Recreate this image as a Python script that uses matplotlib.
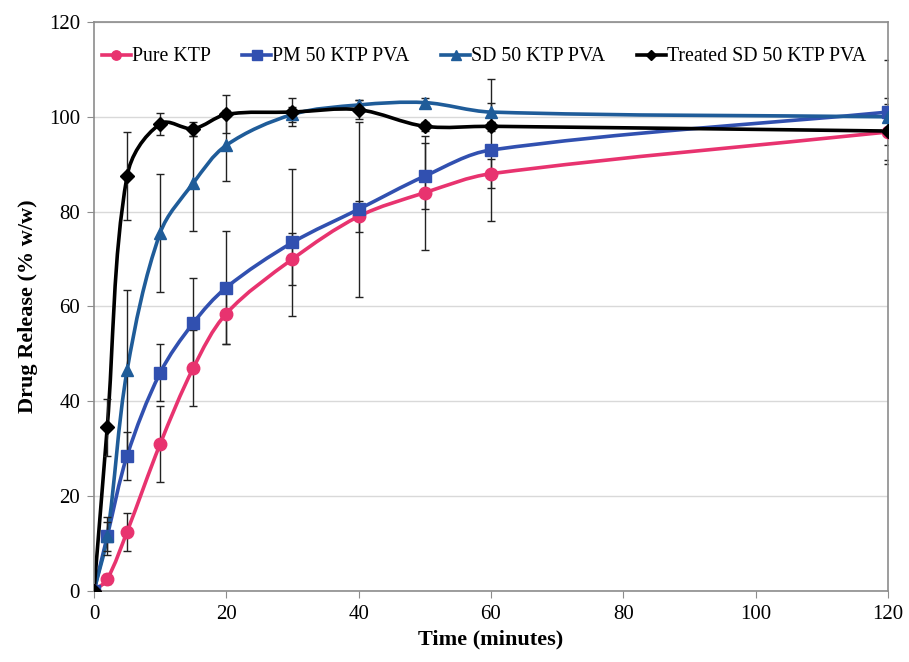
import numpy as np
import matplotlib
matplotlib.use('Agg')
import matplotlib.pyplot as plt
from matplotlib.path import Path
from matplotlib.patches import PathPatch

plt.rcParams['font.family'] = ['Liberation Serif', 'DejaVu Serif']

time = [0, 2, 5, 10, 15, 20, 30, 40, 50, 60, 120]

pure = [0, 2.5, 12.5, 31, 47, 58.5, 70, 79, 84, 88, 96.8]
pure_err = [0, 1, 4, 8, 8, 6.5, 5.5, 3.2, 12, 3, 6]

pm = [0, 11.5, 28.5, 46, 56.5, 64, 73.5, 80.5, 87.5, 93, 101]
pm_err = [0, 4, 5, 6, 9.5, 12, 15.5, 18.5, 7, 15, 11]

sd = [0, 11.5, 46.5, 75.5, 86, 94, 100.5, 102.5, 103, 101, 100]
sd_err = [0, 3, 17, 12.5, 10, 7.5, 1.5, 1, 1, 2, 4]

treated = [0, 34.5, 87.5, 98.5, 97.5, 100.5, 101, 101.5, 98, 98, 97]
treated_err = [0, 6, 9.3, 2.3, 1.5, 4, 3, 2, 1, 1, 3]

labels = ['Pure KTP', 'PM 50 KTP PVA', 'SD 50 KTP PVA', 'Treated SD 50 KTP PVA']
colors = ['#E8336F', '#3150B0', '#1F5C99', '#000000']
markers = ['o', 's', '^', 'D']
msizes = [9, 9, 9, 7]


def smooth_path(x, y, sx=6.6, sy=4.75):
    # smoothed line through the points: cubic Bezier, tangent along the
    # neighbour chord, handle length a third of the segment (in pixel units)
    pts = np.column_stack([np.asarray(x) * sx, np.asarray(y) * sy]).astype(float)
    n = len(pts)
    tang = []
    for i in range(n):
        a = pts[i - 1] if i > 0 else pts[i]
        b = pts[i + 1] if i < n - 1 else pts[i]
        d = b - a
        tang.append(d / np.hypot(*d))
    verts = [pts[0]]
    codes = [Path.MOVETO]
    for i in range(n - 1):
        L = np.hypot(*(pts[i + 1] - pts[i])) / 3.0
        verts += [pts[i] + tang[i] * L, pts[i + 1] - tang[i + 1] * L, pts[i + 1]]
        codes += [Path.CURVE4] * 3
    verts = np.array(verts) / [sx, sy]
    return Path(verts, codes)


fig = plt.figure(figsize=(9.09, 6.62), dpi=100)
ax = fig.add_axes([0.1034, 0.1073, 0.8735, 0.8595])

series = [(pure, pure_err), (pm, pm_err), (sd, sd_err), (treated, treated_err)]
for i, (vals, err) in enumerate(series):
    ax.add_patch(PathPatch(smooth_path(time, vals), facecolor='none',
                           edgecolor=colors[i], lw=2.6, zorder=2))
    ax.errorbar(time, vals, yerr=err, fmt='none', ecolor='#222222',
                elinewidth=1.0, capsize=3, capthick=1.0, zorder=2.5)
    ax.plot(time, vals, linestyle='none', marker=markers[i], ms=msizes[i],
            color=colors[i], zorder=3)
    # legend handle
    ax.plot([], [], color=colors[i], lw=2.6, marker=markers[i], ms=msizes[i],
            label=labels[i])

ax.set_xlim(0, 120)
ax.set_ylim(0, 120)
ax.set_xticks(range(0, 121, 20))
ax.set_yticks(range(0, 121, 20))
ax.yaxis.grid(True, color='#d9d9d9', lw=1)
ax.set_axisbelow(True)
for s in ax.spines.values():
    s.set_color('#8c8c8c')
    s.set_linewidth(1.2)
ax.tick_params(axis='both', direction='out', length=5, color='#8c8c8c',
               labelsize=15, pad=5)

ax.set_xlabel('Time (minutes)', fontsize=16, fontweight='bold', labelpad=4)
ax.set_ylabel('Drug Release (% w/w)', fontsize=16, fontweight='bold', labelpad=8)

ax.legend(loc='center left', ncol=4, frameon=False, fontsize=14.3,
          handlelength=1.45, handletextpad=0.05, columnspacing=1.6,
          markerscale=0.75, bbox_to_anchor=(0.01, 0.9385),
          borderaxespad=0, borderpad=0)

fig.savefig('out.png', dpi=100)
